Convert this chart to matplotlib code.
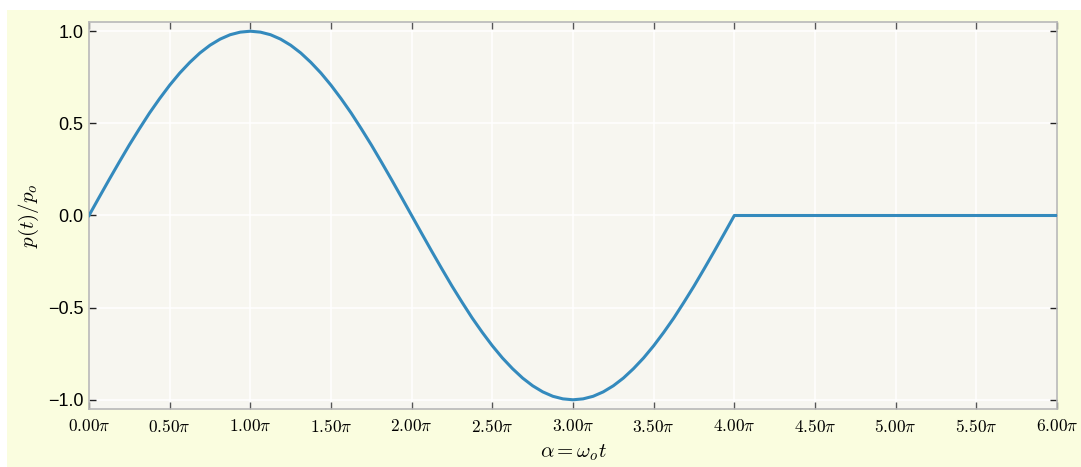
import matplotlib
matplotlib.use("Agg")
import matplotlib.pyplot as plt
import numpy as np
from matplotlib.patches import Rectangle
from matplotlib.ticker import FuncFormatter, MultipleLocator

# alpha in multiples of pi (steps of pi/16)
alpha_pi = [k / 16 for k in range(65)] + [6.0]
rise = [0.0, 0.098, 0.195, 0.290, 0.383, 0.471, 0.556, 0.634, 0.707,
        0.773, 0.831, 0.882, 0.924, 0.957, 0.981, 0.995, 1.0]
fall = [0.995, 0.981, 0.957, 0.924, 0.882, 0.831, 0.773, 0.707,
        0.634, 0.556, 0.471, 0.383, 0.290, 0.195, 0.098, 0.0]
p_ratio = (rise + fall
           + [-0.098, -0.195, -0.290, -0.383, -0.471, -0.556, -0.634, -0.707,
              -0.773, -0.831, -0.882, -0.924, -0.957, -0.981, -0.995, -1.0]
           + [-0.995, -0.981, -0.957, -0.924, -0.882, -0.831, -0.773, -0.707,
              -0.634, -0.556, -0.471, -0.383, -0.290, -0.195, -0.098, 0.0]
           + [0.0])

plt.rcParams["mathtext.fontset"] = "cm"
plt.rcParams["font.family"] = ["Liberation Sans", "DejaVu Sans"]

fig = plt.figure(figsize=(10.81, 4.67), dpi=100, facecolor="white")
fig.patches.append(Rectangle((7 / 1081, 0), 1, 1 - 10 / 467,
                             transform=fig.transFigure, facecolor="#fafddf",
                             edgecolor="none", zorder=-10))
ax = fig.add_axes([89 / 1081, 1 - 409 / 467, 968 / 1081, 387 / 467])
ax.set_facecolor("#f7f6f0")

x = np.array(alpha_pi) * np.pi
ax.plot(x, p_ratio, color="#348abd", lw=2.2, zorder=3,
        solid_joinstyle="round")

ax.set_xlim(0, 6 * np.pi)
ax.set_ylim(-1.05, 1.05)
ax.xaxis.set_major_locator(MultipleLocator(0.5 * np.pi))
ax.xaxis.set_major_formatter(
  FuncFormatter(lambda v, _: r"$%.2f\pi$" % (v / np.pi)))
ax.yaxis.set_major_locator(MultipleLocator(0.5))
ax.yaxis.set_major_formatter(
  FuncFormatter(lambda v, _: ("%.1f" % v).replace("-", "\u2212")))

ax.grid(True, color="white", lw=1.3, alpha=0.85, zorder=0)
ax.set_axisbelow(True)
for s in ax.spines.values():
  s.set_color("#b8b8b8")
  s.set_linewidth(1.2)
ax.tick_params(direction="in", top=True, right=True, length=5,
               width=1, color="#333333")
ax.tick_params(axis="x", labelsize=12.5, pad=7, color="#555555")
ax.tick_params(axis="y", labelsize=13, pad=4, color="#222222")

ax.set_xlabel(r"$\alpha = \omega_o t$", fontsize=15, labelpad=5)
ax.set_ylabel(r"$p(t)/p_o$", fontsize=15, labelpad=5)

fig.savefig("out.png", dpi=100, facecolor=fig.get_facecolor())
